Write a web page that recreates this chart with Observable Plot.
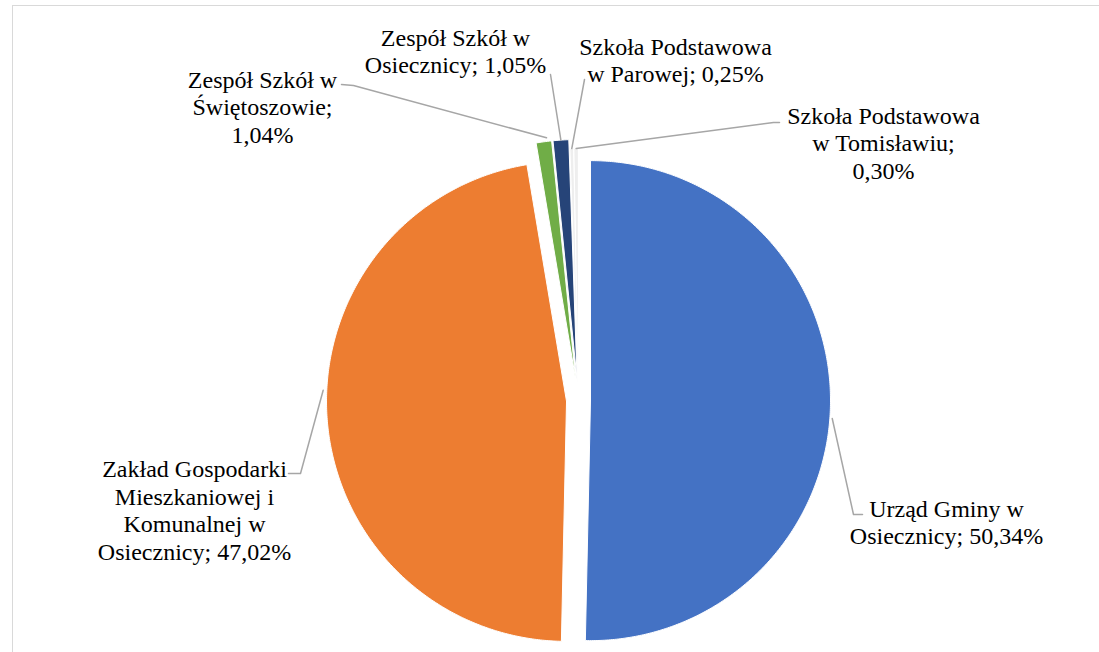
<!DOCTYPE html>
<html>
<head>
<meta charset="utf-8">
<script src="https://cdn.jsdelivr.net/npm/d3@7"></script>
<script src="https://cdn.jsdelivr.net/npm/@observablehq/plot@0.6"></script>
<style>
  html, body { margin: 0; padding: 0; background: #fff; }
  #wrap { position: relative; width: 1099px; height: 652px; overflow: hidden; }
  #border { position: absolute; left: 12px; top: 5px; width: 1100px; height: 660px;
            border-top: 1.5px solid #d9d9d9; border-left: 1.5px solid #d9d9d9; }
  #chart { position: absolute; left: 0; top: 0; }
</style>
</head>
<body>
<div id="wrap"><div id="border"></div><div id="chart"></div></div>
<script>
// ---- data ----
const categories = [
  "Urząd Gminy w Osiecznicy",
  "Zakład Gospodarki Mieszkaniowej i Komunalnej w Osiecznicy",
  "Zespół Szkół w Świętoszowie",
  "Zespół Szkół w Osiecznicy",
  "Szkoła Podstawowa w Parowej",
  "Szkoła Podstawowa w Tomisławiu"
];
const shares = [50.34, 47.02, 1.04, 1.05, 0.25, 0.30];
const colors = ["#4472C4", "#ED7D31", "#70AD47", "#264478", "#eeeeee", "#eeeeee"];

// ---- layout (pixels) ----
const W = 1099, H = 652, cx = 578, cy = 400, R = 240;
const explode = [12, 12, 21, 21, 12, 12];
const labelLayout = [
  {lines: [3, 2],       x: 946, y: 521, leader: [[853, 514], [862, 514]], r: 1.01, at: 0.52},
  {lines: [2, 2, 2, 2], x: 194, y: 509, leader: [[300, 473], [288, 473]], r: 1.015, at: 0.54},
  {lines: [3, 1, 1],    x: 262, y: 106, leader: [[353, 85], [341, 84]],   r: 1.015, at: 0.7},
  {lines: [3, 2],       x: 455, y: 50,  leader: [[550, 74]],              r: 1.0, at: 0.5},
  {lines: [2, 3],       x: 675, y: 59,  leader: [[584, 79]],              r: 1.0, at: 0.5},
  {lines: [2, 2, 1],    x: 883, y: 142, leader: [[773, 122], [779, 122]], r: 1.0, at: 0.5}
];

const X = px => (px - cx) / R;
const Y = py => (cy - py) / R;
const fmt = v => v.toFixed(2).replace(".", ",") + "%";

const arcs = d3.pie().sort(null).startAngle(0).endAngle(2 * Math.PI)(shares);

const slicePts = [];
const leaderPts = [];
const labels = [];
arcs.forEach((a, i) => {
  const mid = (a.startAngle + a.endAngle) / 2;
  const ox = explode[i] / R * Math.sin(mid);
  const oy = explode[i] / R * Math.cos(mid);
  const n = Math.max(2, Math.ceil((a.endAngle - a.startAngle) / (Math.PI / 360)));
  slicePts.push({k: i, x: ox, y: oy});
  for (let j = 0; j <= n; j++) {
    const t = a.startAngle + (a.endAngle - a.startAngle) * j / n;
    slicePts.push({k: i, x: ox + Math.sin(t), y: oy + Math.cos(t)});
  }
  slicePts.push({k: i, x: ox, y: oy});

  const L = labelLayout[i];
  const ang = a.startAngle + (a.endAngle - a.startAngle) * L.at;
  leaderPts.push({k: i, x: ox + L.r * Math.sin(ang), y: oy + L.r * Math.cos(ang)});
  L.leader.forEach(([px, py]) => leaderPts.push({k: i, x: X(px), y: Y(py)}));

  const words = (categories[i] + "; " + fmt(shares[i])).split(" ");
  let p = 0;
  const lines = L.lines.map(c => { const s = words.slice(p, p + c).join(" "); p += c; return s; });
  labels.push({x: X(L.x), y: Y(L.y), text: lines.join("\n")});
});

const chart = Plot.plot({
  width: W, height: H,
  margin: 0,
  style: {background: "transparent"},
  x: {domain: [X(0), X(W)], range: [0, W], axis: null},
  y: {domain: [Y(H), Y(0)], range: [H, 0], axis: null},
  marks: [
    Plot.line(slicePts, {x: "x", y: "y", z: "k", fill: d => colors[d.k], stroke: "white", strokeWidth: 1}),
    Plot.line(leaderPts, {x: "x", y: "y", z: "k", stroke: "#A6A6A6", strokeWidth: 1.5}),
    Plot.text(labels, {x: "x", y: "y", text: "text", fill: "#000", fontSize: 24,
      fontFamily: "Liberation Serif", lineHeight: 1.15,
      textAnchor: "middle", lineAnchor: "middle"})
  ]
});
document.getElementById("chart").appendChild(chart);
</script>
</body>
</html>
